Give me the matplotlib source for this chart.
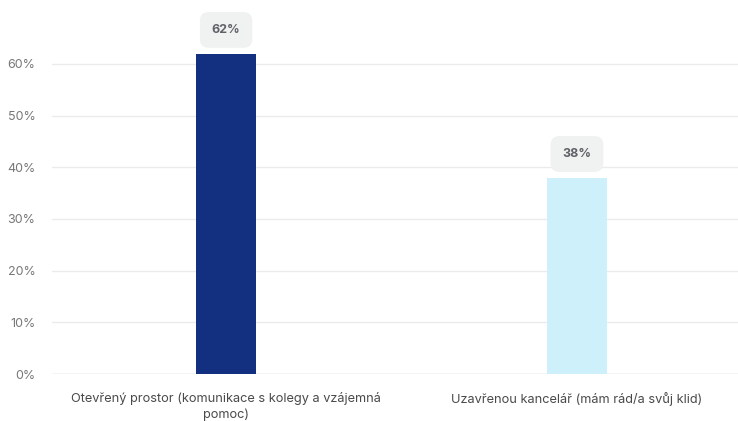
import matplotlib.pyplot as plt
from matplotlib.ticker import FuncFormatter

plt.rcParams["font.family"] = ["Inter", "DejaVu Sans"]

categories = [
    "Otevřený prostor (komunikace s kolegy a vzájemná\npomoc)",
    "Uzavřenou kancelář (mám rád/a svůj klid)",
]
values = [62, 38]
colors = ["#12307f", "#cdf0fa"]
y_ticks = [0, 10, 20, 30, 40, 50, 60]

fig = plt.figure(figsize=(7.38, 4.21), dpi=100)
ax = fig.add_axes([0.0705, 0.1116, 0.9295, 0.884])

x = list(range(len(categories)))
ax.bar(x, values, width=0.171, color=colors, zorder=3)

for xi, v in zip(x, values):
    ax.annotate(
        f"{v}%",
        xy=(xi, v),
        xytext=(0, 17),
        textcoords="offset points",
        ha="center",
        va="center",
        fontsize=9,
        fontweight="bold",
        color="#5f6368",
        bbox=dict(boxstyle="round,pad=0.95,rounding_size=0.7", fc="#f0f1f1", ec="none"),
        annotation_clip=False,
        zorder=4,
    )

ax.set_xlim(-0.496, 1.459)
ax.set_ylim(0, 72)
ax.set_yticks(y_ticks)
ax.yaxis.set_major_formatter(FuncFormatter(lambda v, _: f"{v:.0f}%"))
ax.set_xticks(x)
ax.set_xticklabels(categories, fontsize=9.2, color="#4a4a4a", linespacing=1.4)

ax.grid(axis="y", color="#ebebeb", linewidth=1, zorder=0)
for side in ["top", "right", "left", "bottom"]:
    ax.spines[side].set_visible(False)
ax.axhline(0, color="#d5d8e0", linewidth=1, zorder=2)
ax.tick_params(axis="y", length=0, pad=12, labelsize=9, labelcolor="#777777")
ax.tick_params(axis="x", length=0, pad=13)

fig.savefig("out.png", dpi=100)
